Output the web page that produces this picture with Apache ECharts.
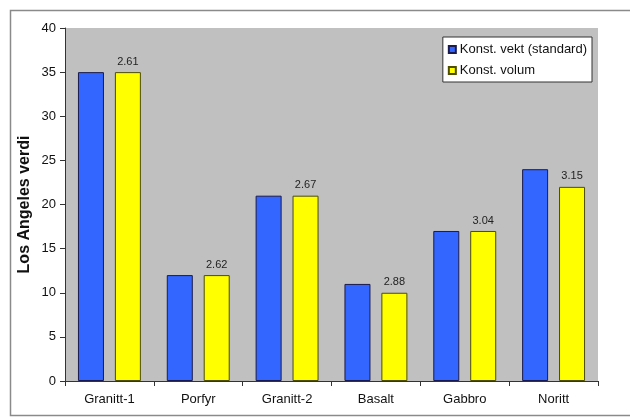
<!DOCTYPE html>
<html>
<head>
<meta charset="utf-8">
<script src="https://cdn.jsdelivr.net/npm/echarts@6/dist/echarts.min.js"></script>
<style>
  html, body { margin: 0; padding: 0; background: #fff; }
  #chart { width: 630px; height: 417px; }
</style>
</head>
<body>
<div id="chart"></div>
<script>
// Rock types tested
const categories = ['Granitt-1', 'Porfyr', 'Granitt-2', 'Basalt', 'Gabbro', 'Noritt'];
// Los Angeles value, constant weight (standard)
const constWeight = [35, 12, 21, 11, 17, 24];
// Los Angeles value, constant volume
const constVolume = [35, 12, 21, 10, 17, 22];
// Density annotations shown above the constant-volume bars
const densities = ['2.61', '2.62', '2.67', '2.88', '3.04', '3.15'];
// Value axis ticks
const yTicks = { min: 0, max: 40, interval: 5 };

const chart = echarts.init(document.getElementById('chart'), null, { renderer: 'canvas' });

const font = 'Arial, "Liberation Sans", sans-serif';

chart.setOption({
  animation: false,
  backgroundColor: '#ffffff',
  graphic: [{
    type: 'rect',
    left: 8, top: 8,
    shape: { width: 640, height: 405 },
    style: { fill: 'none', stroke: '#8a8a8a', lineWidth: 1.5 },
    z: -10
  }],
  grid: {
    left: 65, top: 28, right: 32, bottom: 36,
    show: true,
    backgroundColor: '#c0c0c0',
    borderWidth: 0
  },
  legend: {
    orient: 'vertical',
    right: 38, top: 37,
    itemWidth: 7, itemHeight: 7,
    itemGap: 8,
    padding: [6, 5, 5, 5],
    backgroundColor: '#ffffff',
    borderColor: '#333333',
    borderWidth: 1,
    textStyle: { fontFamily: font, fontSize: 13, color: '#111', padding: [0, 0, 0, -1] },
    icon: 'rect',
    data: ['Konst. vekt (standard)', 'Konst. volum']
  },
  xAxis: {
    type: 'category',
    data: categories,
    axisLine: { lineStyle: { color: '#333', width: 1 } },
    axisTick: { show: true, length: 5, lineStyle: { color: '#333' } },
    axisLabel: { fontFamily: font, fontSize: 13, color: '#111', margin: 12 }
  },
  yAxis: {
    type: 'value',
    min: yTicks.min, max: yTicks.max, interval: yTicks.interval,
    name: 'Los Angeles verdi',
    nameLocation: 'middle',
    nameGap: 32,
    nameMoveOverlap: false,
    nameTextStyle: { fontFamily: font, fontSize: 16, fontWeight: 'bold', color: '#111' },
    axisLine: { show: true, lineStyle: { color: '#333', width: 1 } },
    axisTick: { show: true, length: 5, lineStyle: { color: '#333' } },
    axisLabel: { fontFamily: font, fontSize: 13, color: '#111', margin: 9 },
    splitLine: { show: false }
  },
  series: [
    {
      name: 'Konst. vekt (standard)',
      type: 'bar',
      data: constWeight,
      barWidth: 26,
      barGap: '42%',
      itemStyle: { color: '#3366ff', borderColor: '#1a1a4d', borderWidth: 1 }
    },
    {
      name: 'Konst. volum',
      type: 'bar',
      data: constVolume,
      barWidth: 26,
      barGap: '42%',
      itemStyle: { color: '#ffff00', borderColor: '#4d4d00', borderWidth: 1 },
      label: {
        show: true,
        position: 'top',
        distance: 5,
        fontFamily: font,
        fontSize: 11,
        color: '#222',
        formatter: p => densities[p.dataIndex]
      }
    }
  ]
});
</script>
</body>
</html>
